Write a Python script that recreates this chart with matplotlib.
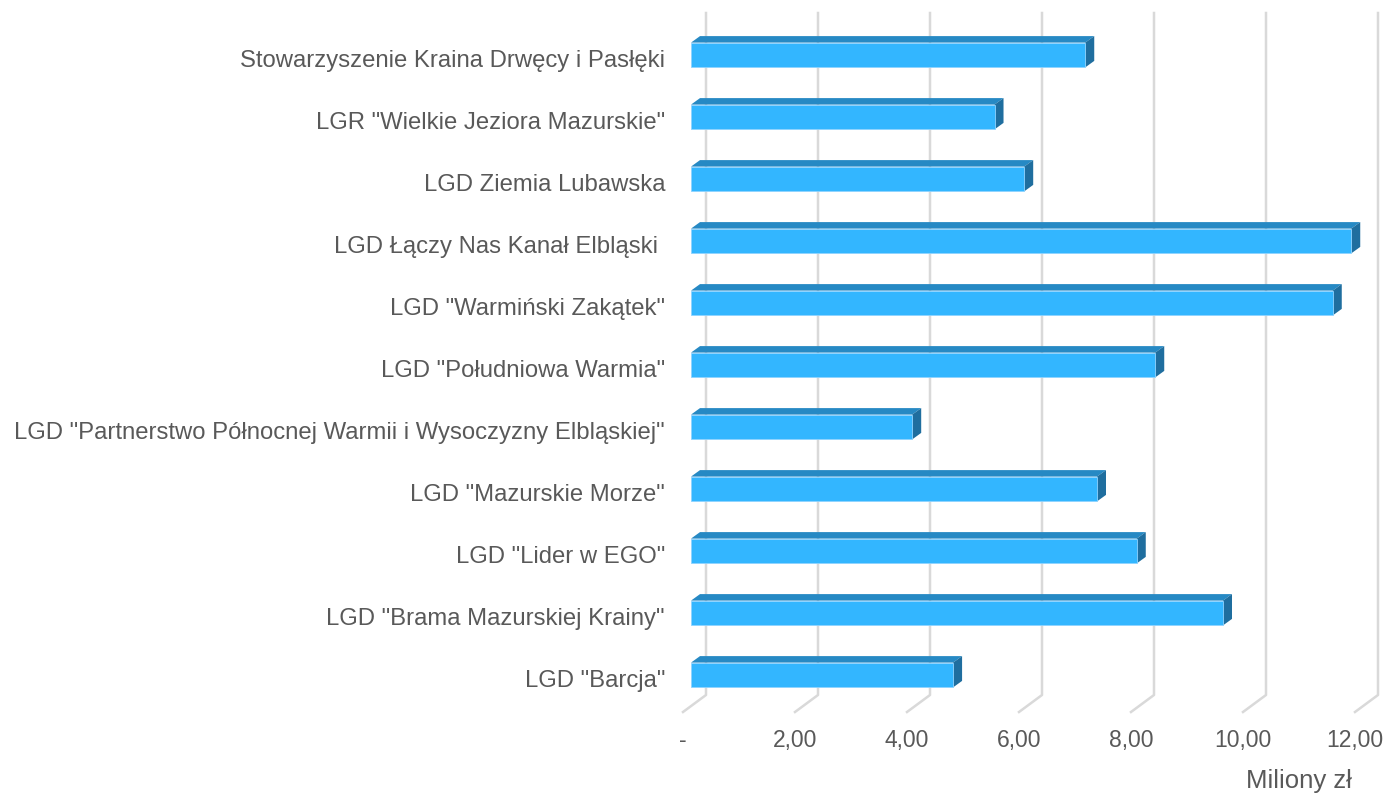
import matplotlib
matplotlib.use("Agg")
import matplotlib.pyplot as plt
import numpy as np
from matplotlib.patches import Polygon
from matplotlib.lines import Line2D
from matplotlib.transforms import IdentityTransform, offset_copy

categories = [
    'Stowarzyszenie Kraina Drwęcy i Pasłęki',
    'LGR "Wielkie Jeziora Mazurskie"',
    'LGD Ziemia Lubawska',
    'LGD Łączy Nas Kanał Elbląski ',
    'LGD "Warmiński Zakątek"',
    'LGD "Południowa Warmia"',
    'LGD "Partnerstwo Północnej Warmii i Wysoczyzny Elbląskiej"',
    'LGD "Mazurskie Morze"',
    'LGD "Lider w EGO"',
    'LGD "Brama Mazurskiej Krainy"',
    'LGD "Barcja"',
]
values = [7.04, 5.42, 5.95, 11.79, 11.46, 8.29, 3.95, 7.25, 7.96, 9.50, 4.68]  # mln zł
xticks = [0, 2, 4, 6, 8, 10, 12]
xticklabels = ['-', '2,00', '4,00', '6,00', '8,00', '10,00', '12,00']
axis_title = 'Miliony zł'

FRONT = '#33b6ff'
TOP = '#2689c4'
SIDE = '#1f6e9f'
GRID = '#d9d9d9'
TEXT = '#595959'
plt.rcParams['font.family'] = ['Liberation Sans', 'DejaVu Sans']

W, H = 1388, 794
fig = plt.figure(figsize=(W / 100, H / 100), dpi=100)
# axes = plane of the bars' front faces
ax = fig.add_axes([691 / W, (H - 706) / H, 672 / W, 682 / H])
ax.set_xlim(0, 12)
ax.set_ylim(-0.5, 10.5)
ax.axis('off')

# depth offsets in pixels, relative to the bar front plane
WALL = (15, 11)
FLOOR = (-8, -6)
BACK = (9, 6.5)

ypos = np.arange(len(categories))[::-1]
bar_h = 0.4

def disp(x, y, off=(0, 0)):
    px, py = ax.transData.transform((x, y))
    return px + off[0], py + off[1]

# gridlines: back wall plus slanted floor segment
for v in xticks:
    tx, ty = disp(v, 10.5, WALL)
    bx, by = disp(v, -0.5, WALL)
    fx, fy = disp(v, -0.5, FLOOR)
    fig.add_artist(Line2D([tx, bx, fx], [ty, by, fy], color=GRID, lw=1.8,
                          transform=IdentityTransform(), zorder=0))

# bars: front face + top and side faces
ax.barh(ypos, values, height=bar_h, color=FRONT, edgecolor='#8fd3ff',
        linewidth=0.6, zorder=3)
for y, v in zip(ypos, values):
    top = [disp(0, y + bar_h / 2), disp(v, y + bar_h / 2),
           disp(v, y + bar_h / 2, BACK), disp(0, y + bar_h / 2, BACK)]
    side = [disp(v, y + bar_h / 2), disp(v, y - bar_h / 2),
            disp(v, y - bar_h / 2, BACK), disp(v, y + bar_h / 2, BACK)]
    ax.add_patch(Polygon(top, closed=True, facecolor=TOP, edgecolor='none',
                         transform=IdentityTransform(), clip_on=False, zorder=2))
    ax.add_patch(Polygon(side, closed=True, facecolor=SIDE, edgecolor='none',
                         transform=IdentityTransform(), clip_on=False, zorder=2))

# category labels sit on the front floor plane
ylab_tr = offset_copy(ax.transData, fig=fig, x=-26, y=-6, units='dots')
for y, name in zip(ypos, categories):
    ax.text(0, y, name, transform=ylab_tr, ha='right', va='center',
            fontsize=17.2, color=TEXT)

xlab_tr = offset_copy(ax.transData, fig=fig, x=-8, y=-35, units='dots')
for v, lab in zip(xticks, xticklabels):
    ax.text(v, -0.5, lab, transform=xlab_tr, ha='center', va='center',
            fontsize=16.5, color=TEXT)

fig.text(1352 / W, (H - 781) / H, axis_title, ha='right', va='center',
         fontsize=18.5, color=TEXT)

fig.savefig('out.png', dpi=100)
